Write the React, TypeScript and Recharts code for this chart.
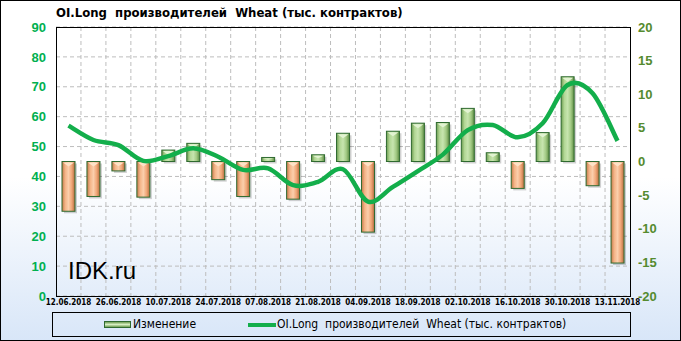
import React from 'react';
import { ComposedChart, Bar, Line, XAxis, YAxis, CartesianGrid } from 'recharts';

const dates = [
  '12.06.2018', '19.06.2018', '26.06.2018', '03.07.2018', '10.07.2018', '17.07.2018',
  '24.07.2018', '31.07.2018', '07.08.2018', '14.08.2018', '21.08.2018', '28.08.2018',
  '04.09.2018', '11.09.2018', '18.09.2018', '25.09.2018', '02.10.2018', '09.10.2018',
  '16.10.2018', '23.10.2018', '30.10.2018', '06.11.2018', '13.11.2018',
];

// OI.Long производителей (left axis)
const oiLong = [
  57.0, 52.2, 50.5, 45.2, 46.8, 49.4, 46.6, 42.2, 42.7, 37.1, 38.2, 42.4,
  31.6, 36.5, 41.8, 47.3, 55.5, 57.2, 53.1, 57.8, 70.6, 67.8, 51.9,
];

// Изменение (right axis)
const change = [
  -7.4, -5.2, -1.4, -5.3, 1.7, 2.7, -2.7, -5.2, 0.6, -5.6, 1.0, 4.2,
  -10.5, 4.5, 5.7, 5.8, 7.9, 1.3, -4.0, 4.3, 12.6, -3.6, -15.1,
];

const leftTicks = [0, 10, 20, 30, 40, 50, 60, 70, 80, 90];
const rightTicks = [-20, -15, -10, -5, 0, 5, 10, 15, 20];

const data = dates.map((d, i) => ({ date: d, oi: oiLong[i], change: change[i] }));

const titleText = 'OI.Long  производителей  Wheat (тыс. контрактов)';
const uiFont = '"DejaVu Sans Condensed", "DejaVu Sans", sans-serif';

// Excel-style smoothed line (Catmull-Rom through the points)
const smoothCurve = (context: any) => {
  let pts: number[][] = [];
  return {
    areaStart() {},
    areaEnd() {},
    lineStart() {
      pts = [];
    },
    point(x: number, y: number) {
      pts.push([+x, +y]);
    },
    lineEnd() {
      if (!pts.length) return;
      context.moveTo(pts[0][0], pts[0][1]);
      for (let i = 0; i < pts.length - 1; i++) {
        const p0 = pts[i - 1] || pts[i];
        const p1 = pts[i];
        const p2 = pts[i + 1];
        const p3 = pts[i + 2] || pts[i + 1];
        context.bezierCurveTo(
          p1[0] + (p2[0] - p0[0]) / 6,
          p1[1] + (p2[1] - p0[1]) / 6,
          p2[0] - (p3[0] - p1[0]) / 6,
          p2[1] - (p3[1] - p1[1]) / 6,
          p2[0],
          p2[1],
        );
      }
    },
  };
};

const BevelBar = (props: any) => {
  const { x, y, width, height, payload } = props;
  if (x == null || y == null) return null;
  const top = Math.min(y, y + height);
  const h = Math.abs(height);
  const neg = payload.change < 0;
  const cap = Math.min(5, h / 2);
  return (
    <g>
      <rect x={x + 2} y={top + 2} width={width} height={h} fill="rgba(0,0,0,0.18)" />
      <rect
        x={x}
        y={top}
        width={width}
        height={h}
        fill={neg ? 'url(#gOrange)' : 'url(#gGreen)'}
        stroke="#2f6a30"
        strokeWidth={1}
      />
      <polygon
        points={`${x + 1},${top + 1} ${x + width - 1},${top + 1} ${x + width / 2},${top + cap}`}
        fill={neg ? '#fde3c8' : '#e2f3d2'}
      />
    </g>
  );
};

const verticalLines = ({ offset }: any) =>
  dates.slice(1).map((_, i) => offset.left + ((i + 1) * offset.width) / dates.length);

export default function App() {
  return (
    <div
      style={{
        position: 'absolute',
        left: 0,
        top: 0,
        width: 681,
        height: 341,
        background: 'linear-gradient(#ffffff 0%, #ffffff 52%, #d8e6f8 100%)',
        fontFamily: uiFont,
      }}
    >
      <div
        style={{
          position: 'absolute',
          left: 56,
          top: 5,
          fontSize: 13,
          fontWeight: 'bold',
          whiteSpace: 'pre',
          color: '#000',
        }}
      >
        {titleText}
      </div>
      <ComposedChart width={681} height={341} data={data} margin={{ top: 27, right: 0, left: 0, bottom: 25 }}>
        <defs>
          <linearGradient id="gOrange" x1="0" y1="0" x2="1" y2="0">
            <stop offset="0%" stopColor="#c47a4a" />
            <stop offset="25%" stopColor="#f4b487" />
            <stop offset="50%" stopColor="#fbcfac" />
            <stop offset="75%" stopColor="#f0a677" />
            <stop offset="100%" stopColor="#b46c3e" />
          </linearGradient>
          <linearGradient id="gGreen" x1="0" y1="0" x2="1" y2="0">
            <stop offset="0%" stopColor="#6d9c50" />
            <stop offset="25%" stopColor="#b2d795" />
            <stop offset="50%" stopColor="#c7e5af" />
            <stop offset="75%" stopColor="#a2ca84" />
            <stop offset="100%" stopColor="#5d8b43" />
          </linearGradient>
        </defs>
        <CartesianGrid
          yAxisId="left"
          stroke="#bdbdbd"
          strokeDasharray="4 3"
          verticalCoordinatesGenerator={verticalLines}
        />
        <XAxis
          dataKey="date"
          interval={1}
          height={20}
          axisLine={false}
          tickLine={false}
          tickSize={0}
          tickMargin={3}
          tick={{ fontSize: 8, fontWeight: 'bold', fill: '#000', fontFamily: uiFont }}
        />
        <YAxis
          yAxisId="left"
          orientation="left"
          width={56}
          domain={[0, 90]}
          ticks={leftTicks}
          axisLine={false}
          tickLine={false}
          tickSize={0}
          tickMargin={10}
          tick={{ fontSize: 13, fontWeight: 'bold', fill: '#00b050', fontFamily: '"Liberation Sans", sans-serif' }}
        />
        <YAxis
          yAxisId="right"
          orientation="right"
          width={51}
          domain={[-20, 20]}
          ticks={rightTicks}
          axisLine={false}
          tickLine={false}
          tickSize={0}
          tickMargin={8}
          tick={{ fontSize: 13, fontWeight: 'bold', fill: '#558b2f', fontFamily: '"Liberation Sans", sans-serif' }}
        />
        <Bar yAxisId="right" dataKey="change" barSize={13} shape={BevelBar} isAnimationActive={false} />
        <Line
          yAxisId="left"
          type={smoothCurve as any}
          dataKey="oi"
          stroke="#13ae4b"
          strokeWidth={4.5}
          dot={false}
          activeDot={false}
          isAnimationActive={false}
        />
      </ComposedChart>
      <div
        style={{
          position: 'absolute',
          left: 68,
          top: 257,
          fontSize: 24,
          fontFamily: '"Liberation Sans", Arial, sans-serif',
          color: '#000',
        }}
      >
        IDK.ru
      </div>
      {/* plot border */}
      <div
        style={{
          position: 'absolute',
          left: 56,
          top: 27,
          width: 575,
          height: 270,
          boxSizing: 'border-box',
          border: '1px solid #000',
          pointerEvents: 'none',
        }}
      />
      {/* legend */}
      <div
        style={{
          position: 'absolute',
          left: 52,
          top: 312,
          width: 579,
          height: 25,
          boxSizing: 'border-box',
          border: '1px solid #000',
          fontSize: 12,
          color: '#000',
          whiteSpace: 'pre',
        }}
      >
        <div
          style={{
            position: 'absolute',
            left: 51,
            top: 8,
            width: 27,
            height: 7,
            boxSizing: 'border-box',
            border: '1px solid #2f6a30',
            background: 'linear-gradient(#6d9c50, #d6eec2, #6d9c50)',
          }}
        />
        <div style={{ position: 'absolute', left: 80, top: 4 }}>Изменение</div>
        <div
          style={{
            position: 'absolute',
            left: 195,
            top: 10,
            width: 28,
            height: 4,
            background: '#13ae4b',
          }}
        />
        <div style={{ position: 'absolute', left: 224, top: 4 }}>{titleText}</div>
      </div>
      {/* outer frame */}
      <div
        style={{
          position: 'absolute',
          left: 0,
          top: 0,
          width: 681,
          height: 341,
          boxSizing: 'border-box',
          border: '1px solid #000',
          pointerEvents: 'none',
        }}
      />
    </div>
  );
}
